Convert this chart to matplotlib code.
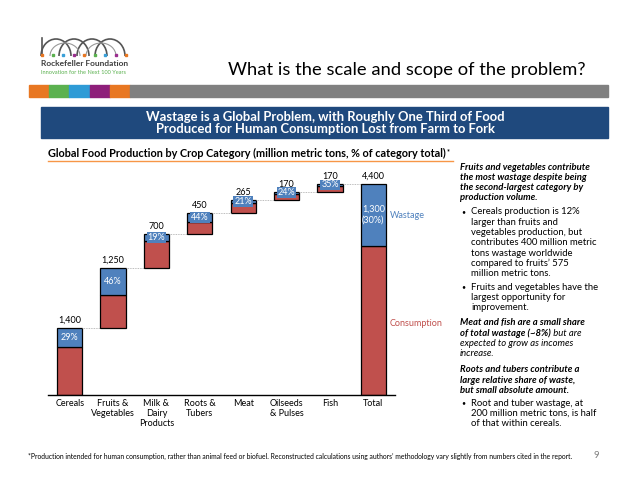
import numpy as np
import matplotlib
matplotlib.use("Agg")
import matplotlib.pyplot as plt
from matplotlib.patches import Rectangle, Arc

plt.rcParams['font.family'] = ['Lato', 'DejaVu Sans']

# data
categories = ["Cereals", "Fruits &\nVegetables", "Milk &\nDairy\nProducts", "Roots &\nTubers",
              "Meat", "Oilseeds\n& Pulses", "Fish", "Total"]
production = [1400, 1250, 700, 450, 265, 170, 170]
waste_pct = [29, 46, 19, 44, 21, 24, 35]
total_production = 4400
total_waste = 1300
total_waste_pct = 30

RED = "#C0504D"
BLUE = "#4F81BD"
W, H = 638, 493


def fx(x):
    return x / W


def fy(y):
    return 1 - y / H


fig = plt.figure(figsize=(6.38, 4.93), dpi=100)
fig.patch.set_facecolor("white")

# logo
lax = fig.add_axes([fx(39), fy(57), fx(90), 20 / H])
lax.set_xlim(0, 90)
lax.set_ylim(0, 20)
lax.axis("off")
lax.plot([3, 3], [1, 19], color="#555555", lw=1.2)
for cx in [17, 35, 53, 71]:
    lax.add_patch(Arc((cx, 1), 30, 34, theta1=0, theta2=180, color="#555555", lw=1.2))
for cx in [26, 62]:
    lax.add_patch(Arc((cx, 1), 30, 26, theta1=0, theta2=180, color="#999999", lw=0.8))
dot_cols = ["#E87722", "#5BB14F", "#3AA0D8", "#9B2F8F", "#E87722", "#5BB14F", "#3AA0D8", "#9B2F8F", "#E87722"]
for i, c in enumerate(dot_cols):
    lax.plot(3 + i * 10.5, 1.5, marker="s", ms=2, color=c)
fig.text(fx(41), fy(64), "Rockefeller Foundation", fontsize=6.0, fontweight="bold",
         color="#3F3F3F", va="center", ha="left")
fig.text(fx(41), fy(73), "Innovation for the Next 100 Years", fontsize=4.1,
         color="#5BB14F", va="center", ha="left")

# title
fig.text(fx(585), fy(70), "What is the scale and scope of the problem?", fontsize=13.2,
         color="black", ha="right", va="center")

# color strip
strip_cols = ["#E87722", "#5BB14F", "#2E9BD6", "#8E1F7A", "#E87722"]
for i, c in enumerate(strip_cols):
    fig.add_artist(Rectangle((fx(29 + i * 20.2), fy(97)), fx(20.2), 12 / H, color=c,
                             transform=fig.transFigure))
fig.add_artist(Rectangle((fx(130), fy(97)), fx(478), 12 / H, color="#808080",
                         transform=fig.transFigure))

# banner
fig.add_artist(Rectangle((fx(41), fy(138)), fx(567), 31 / H, color="#1F497D",
                         transform=fig.transFigure))
fig.text(fx(325), fy(122.5), "Wastage is a Global Problem, with Roughly One Third of Food\n"
         "Produced for Human Consumption Lost from Farm to Fork", fontsize=9.4,
         fontweight="bold", color="white", ha="center", va="center", linespacing=1.0)

# chart title
ct = fig.text(fx(48), fy(153), "Global Food Production by Crop Category (million metric tons, % of category total)",
              fontsize=7.8, fontweight="bold", ha="left", va="center")
fig.canvas.draw()
cbb = ct.get_window_extent()
fig.text(cbb.x1 / W + 0.002, fy(152), "*", fontsize=5, fontweight="bold", ha="left", va="center")
fig.add_artist(plt.Line2D([fx(48), fx(453)], [fy(161), fy(161)], color="#F79646", lw=1,
                          transform=fig.transFigure))

# waterfall
ax = fig.add_axes([fx(48), fy(395), 347 / W, 240 / H])
ax.set_xlim(-0.5, 7.5)
ax.set_ylim(0, 5000)
bw = 0.58
x = np.arange(len(categories))
waste = [p * q / 100 for p, q in zip(production, waste_pct)]
bottoms = np.concatenate([[0], np.cumsum(production)[:-1]])
tops = bottoms + np.array(production)

cons = [p - w for p, w in zip(production, waste)]
ax.bar(x[:-1], cons, bw, bottom=bottoms, color=RED, edgecolor="black", lw=0.9)
ax.bar(x[:-1], waste, bw, bottom=bottoms + np.array(cons), color=BLUE, edgecolor="black", lw=0.9)
ax.bar(x[-1], total_production - total_waste, bw, color=RED, edgecolor="black", lw=0.9)
ax.bar(x[-1], total_waste, bw, bottom=total_production - total_waste, color=BLUE,
       edgecolor="black", lw=0.9)

for i in range(len(production)):
    ax.text(x[i], tops[i] + 60, f"{production[i]:,}", ha="center", va="bottom", fontsize=6.5)
    ax.text(x[i], tops[i] - waste[i] / 2, f"{waste_pct[i]}%", ha="center", va="center",
            fontsize=6.5, color="white",
            bbox=dict(boxstyle="square,pad=0.1", fc=BLUE, ec="none"))
    nxt_left = x[i + 1] - bw / 2
    ax.plot([x[i] + bw / 2, nxt_left], [tops[i], tops[i]], color="#A6A6A6", lw=0.6, ls=(0, (1, 1)))
ax.text(x[-1], total_production + 60, f"{total_production:,}", ha="center", va="bottom", fontsize=6.5)
ax.text(x[-1], total_production - total_waste / 2, f"{total_waste:,}\n({total_waste_pct}%)",
        ha="center", va="center", fontsize=6.5, color="white", linespacing=1.3)
ax.text(7.38, total_production - total_waste / 2, "Wastage", color=BLUE, fontsize=6.5,
        ha="left", va="center")
ax.text(7.38, 1480, "Consumption", color=RED, fontsize=6.5, ha="left", va="center")

ax.set_xticks(x)
ax.set_xticklabels(categories, fontsize=6.5, linespacing=1.15)
ax.tick_params(axis="x", length=0, pad=3)
ax.set_yticks([])
for s in ["top", "right", "left"]:
    ax.spines[s].set_visible(False)
ax.spines["bottom"].set_linewidth(1)
ax.patch.set_alpha(0)

# right side notes
tx, bx = 460, 471
lh = 10.3
FS = 6.8


def line(y, s, x0=tx, **kw):
    fig.text(fx(x0), fy(y), s, fontsize=FS, ha="left", va="center", **kw)


def bullet(y):
    fig.text(fx(tx + 1), fy(y), "\u2022", fontsize=5, ha="left", va="center")


bi = dict(fontweight="bold", style="italic")
it = dict(style="italic")
y = 167
for s in ["Fruits and vegetables contribute", "the most wastage despite being",
          "the second-largest category by", "production volume."]:
    line(y, s, **bi)
    y += lh
y = 212
bullet(y)
for s in ["Cereals production is 12%", "larger than fruits and", "vegetables production, but",
          "contributes 400 million metric", "tons wastage worldwide",
          "compared to fruits\u2019 575", "million metric tons."]:
    line(y, s, x0=bx)
    y += lh
y = 287
bullet(y)
for s in ["Fruits and vegetables have the", "largest opportunity for", "improvement."]:
    line(y, s, x0=bx)
    y += lh
y = 323
line(y, "Meat and fish are a small share", **bi)
y += lh
t = fig.text(fx(tx), fy(y), "of total wastage (~8%)", fontsize=FS, ha="left", va="center", **bi)
fig.canvas.draw()
bb = t.get_window_extent()
fig.text(bb.x1 / W, fy(y), " but are", fontsize=FS, ha="left", va="center", **it)
y += lh
line(y, "expected to grow as incomes", **it)
y += lh
line(y, "increase.", **it)
y = 370
for s in ["Roots and tubers contribute a", "large relative share of waste,",
          "but small absolute amount."]:
    line(y, s, **bi)
    y += lh
y = 403
bullet(y)
for s in ["Root and tuber wastage, at", "200 million metric tons, is half", "of that within cereals."]:
    line(y, s, x0=bx)
    y += lh

# footer
fig.text(fx(28), fy(456), "*Production intended for human consumption, rather than animal feed or biofuel. "
         "Reconstructed calculations using authors\u2019 methodology vary slightly from numbers cited in the report.",
         fontsize=4.9, ha="left", va="center")
fig.text(fx(596), fy(455), "9", fontsize=7, color="#808080", ha="center", va="center")

fig.savefig("out.png", dpi=100)
